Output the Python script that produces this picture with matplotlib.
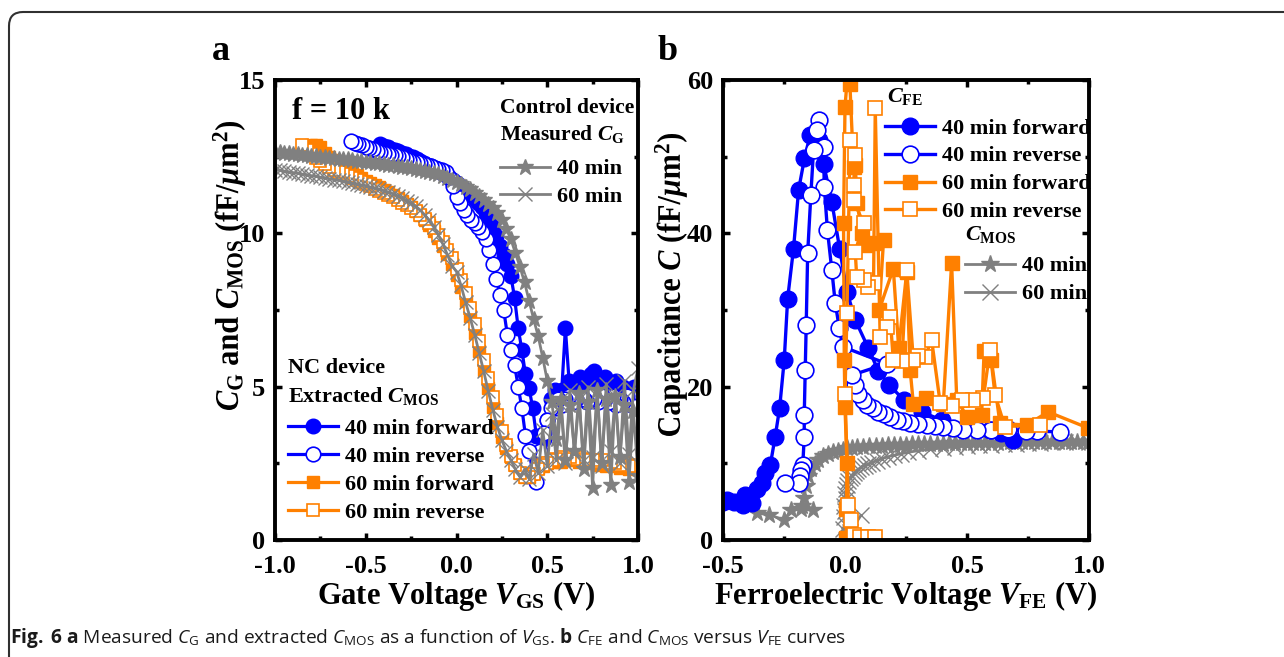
import numpy as np
import matplotlib
matplotlib.use('Agg')
import matplotlib.pyplot as plt
from matplotlib.patches import FancyBboxPatch, PathPatch
from matplotlib.transforms import IdentityTransform, Affine2D
from matplotlib.textpath import TextPath
from matplotlib import font_manager as fm
from matplotlib.font_manager import FontProperties
from matplotlib.ticker import MultipleLocator, FormatStrFormatter

# ---------------- data: panel a (C vs V_GS) ----------------
# control device, measured C_G (sweep -1.0 .. 1.0 V, step 0.025 V)
VGS_CTRL = np.round(np.arange(-1.0, 1.0001, 0.025), 3)
CG_CTRL_40 = [12.66, 12.64, 12.63, 12.61, 12.60, 12.58, 12.56, 12.55, 12.53, 12.52,
              12.50, 12.48, 12.47, 12.45, 12.44, 12.42, 12.41, 12.39, 12.37, 12.36,
              12.34, 12.32, 12.30, 12.28, 12.26, 12.24, 12.22, 12.20, 12.17, 12.15,
              12.12, 12.10, 12.07, 12.04, 12.00, 11.96, 11.92, 11.87, 11.82, 11.75,
              11.68, 11.60, 11.52, 11.43, 11.33, 11.22, 11.10, 10.97, 10.82, 10.65,
              10.45, 10.15, 9.80, 9.35, 8.90, 8.40, 7.80, 7.20, 6.65, 5.95,
              5.20, 4.50, 3.30, 4.60, 2.60, 4.40, 2.90, 4.80, 2.30, 4.50,
              1.70, 4.90, 2.50, 4.60, 1.80, 4.70, 2.70, 4.40, 1.90, 4.20, 2.10]
CG_CTRL_60 = [12.07, 12.05, 12.03, 12.00, 11.98, 11.96, 11.93, 11.91, 11.88, 11.86,
              11.83, 11.81, 11.78, 11.75, 11.73, 11.70, 11.67, 11.64, 11.61, 11.58,
              11.55, 11.51, 11.47, 11.43, 11.39, 11.34, 11.29, 11.22, 11.15, 11.07,
              10.98, 10.88, 10.76, 10.60, 10.42, 10.20, 9.95, 9.65, 9.30, 8.95,
              8.75, 8.30, 7.75, 7.25, 6.70, 6.10, 5.50, 4.85, 4.25, 3.70,
              3.25, 2.90, 2.60, 2.30, 2.05, 2.30, 2.00, 2.80, 2.20, 3.60,
              2.40, 4.10, 2.60, 4.40, 2.50, 4.90, 2.80, 4.60, 2.60, 5.00,
              2.70, 4.80, 2.40, 5.10, 2.90, 4.70, 2.50, 5.20, 2.80, 4.90, 5.60]

# NC device, extracted C_MOS
VGS_40_FWD = np.round(np.arange(-0.42, 1.0001, 0.02), 3)
CMOS_40_FWD = [12.90, 12.85, 12.80, 12.75, 12.72, 12.68, 12.62, 12.58, 12.52, 12.48,
               12.42, 12.37, 12.30, 12.24, 12.18, 12.12, 12.05, 11.98, 11.90, 11.82,
               11.74, 11.65, 11.55, 11.45, 11.35, 11.25, 11.12, 11.00, 10.85, 10.65,
               10.45, 10.20, 9.90, 9.60, 9.30, 9.00, 8.60, 7.90, 6.90, 6.20,
               5.40, 4.95, 4.30, 3.40, 2.80, 3.30, 3.90, 4.60, 4.90, 4.80,
               4.90, 6.90, 5.20, 5.10, 5.00, 5.30, 5.10, 5.20, 5.40, 5.50,
               5.20, 5.00, 5.30, 5.10, 5.00, 5.20, 4.90, 5.00, 4.80, 4.90, 5.00, 4.90]
VGS_40_REV = np.round(np.arange(1.0, -0.5801, -0.02), 3)
CMOS_40_REV = [4.50, 4.60, 4.40, 4.70, 4.50, 4.60, 4.40, 4.70, 4.50, 4.60,
               4.70, 4.50, 4.60, 4.70, 4.50, 4.60, 4.70, 4.60, 4.50, 4.70,
               4.60, 4.40, 4.60, 4.30, 4.30, 3.90, 3.50, 2.90, 1.90, 2.20,
               2.90, 3.40, 4.30, 5.00, 5.70, 6.20, 6.70, 7.50, 8.00, 8.50,
               9.00, 9.45, 9.80, 10.05, 10.20, 10.35, 10.45, 10.60, 10.75, 11.00,
               11.20, 11.55, 11.85, 12.01, 12.06, 12.10, 12.14, 12.18, 12.22, 12.25,
               12.28, 12.31, 12.34, 12.39, 12.44, 12.48, 12.51, 12.54, 12.57, 12.60,
               12.63, 12.66, 12.70, 12.74, 12.78, 12.83, 12.87, 12.90, 12.95, 13.00]
VGS_60_FWD = np.round(np.arange(-0.8, 1.0001, 0.025), 3)
CMOS_60_FWD = [12.88, 12.88, 12.80, 12.62, 12.50, 12.38, 12.28, 12.18, 12.07, 11.98,
               11.90, 11.80, 11.72, 11.65, 11.57, 11.50, 11.42, 11.34, 11.25, 11.15,
               11.05, 10.95, 10.85, 10.73, 10.60, 10.45, 10.28, 10.08, 9.85, 9.60,
               9.32, 9.00, 8.65, 8.25, 7.80, 7.30, 6.75, 6.15, 5.55, 4.95,
               4.35, 3.80, 3.35, 3.00, 2.70, 2.45, 2.20, 2.05, 2.05, 2.20,
               2.35, 2.40, 2.50, 2.55, 2.60, 2.55, 2.60, 2.65, 2.60, 2.55,
               2.60, 2.50, 2.55, 2.45, 2.50, 2.40, 2.45, 2.40, 2.35, 2.40,
               2.30, 2.35, 2.30]
VGS_60_REV = np.round(np.arange(1.0, -0.8501, -0.025), 3)
CMOS_60_REV = [2.40, 2.45, 2.40, 2.50, 2.45, 2.50, 2.55, 2.50, 2.60, 2.55,
               2.60, 2.65, 2.60, 2.70, 2.65, 2.70, 2.65, 2.70, 2.65, 2.60,
               2.50, 2.45, 2.30, 2.15, 2.05, 2.05, 2.20, 2.45, 2.75, 3.10,
               3.55, 4.08, 4.66, 5.27, 5.88, 6.48, 7.05, 7.58, 8.05, 8.48,
               8.85, 9.18, 9.47, 9.73, 9.96, 10.16, 10.33, 10.48, 10.61, 10.72,
               10.82, 10.91, 11.00, 11.09, 11.17, 11.25, 11.32, 11.39, 11.46, 11.53,
               11.60, 11.66, 11.73, 11.80, 11.86, 11.93, 12.00, 12.07, 12.15, 12.25,
               12.35, 12.45, 12.58, 12.72, 12.88]

# ---------------- data: panel b (C vs V_FE) ----------------
VFE_40_FWD = [-0.50, -0.484, -0.456, -0.42, -0.41, -0.38, -0.36, -0.34, -0.327, -0.306,
              -0.286, -0.268, -0.249, -0.235, -0.211, -0.19, -0.166, -0.143, -0.108, -0.088,
              -0.054, -0.022, 0.008, 0.042, 0.096, 0.137, 0.182, 0.24, 0.314, 0.396,
              0.49, 0.594, 0.64, 0.69]
CFE_40_FWD = [5.0, 5.2, 5.0, 4.6, 5.9, 4.8, 6.7, 7.4, 8.7, 9.8,
              13.5, 17.2, 23.5, 31.5, 38.0, 45.7, 49.8, 52.8, 52.2, 49.1,
              44.1, 38.0, 32.4, 28.7, 25.0, 22.0, 20.2, 18.3, 16.7, 15.65,
              14.6, 14.3, 13.9, 13.0]
VFE_40_REV = [0.88, 0.785, 0.74, 0.67, 0.60, 0.54, 0.485, 0.444, 0.403, 0.369,
              0.335, 0.301, 0.267, 0.239, 0.212, 0.185, 0.16, 0.137, 0.114, 0.092,
              0.073, 0.055, 0.042, 0.028, 0.171, -0.009, -0.023, -0.04, -0.054, -0.072,
              -0.085, -0.088, -0.108, -0.115, -0.129, -0.14, -0.153, -0.159, -0.163, -0.167,
              -0.167, -0.173, -0.181, -0.186, -0.19, -0.245]
CFE_40_REV = [14.1, 14.2, 14.2, 14.5, 14.4, 14.3, 14.4, 14.55, 14.7, 14.9,
              15.0, 15.1, 15.3, 15.5, 15.7, 16.1, 16.4, 16.7, 17.2, 17.6,
              18.3, 19.1, 20.2, 21.5, 23.0, 25.2, 27.6, 30.9, 35.2, 40.4,
              46.1, 51.3, 54.8, 53.5, 50.9, 45.0, 37.4, 28.0, 22.2, 16.3,
              13.5, 9.8, 9.1, 8.3, 7.4, 7.4]
VFE_60_FWD = [0.005, 0.006, 0.008, 0.0, -0.003, -0.006, 0.0, 0.014, 0.02, 0.035,
              0.042, 0.05, 0.069, 0.083, 0.117, 0.158, 0.14, 0.198, 0.22, 0.253,
              0.267, 0.28, 0.33, 0.403, 0.437, 0.458, 0.5, 0.56, 0.57, 0.6,
              0.635, 0.744, 0.833, 0.997]
CFE_60_FWD = [0.3, 4.0, 10.0, 17.3, 23.5, 41.3, 56.5, 62.0, 59.5, 48.7,
              48.9, 44.0, 40.0, 38.5, 38.7, 39.1, 30.0, 35.4, 25.0, 35.0,
              22.2, 17.8, 18.5, 17.8, 36.1, 18.3, 16.1, 16.3, 24.6, 23.5,
              15.2, 15.0, 16.7, 14.6]
VFE_60_REV = [0.80, 0.655, 0.615, 0.594, 0.567, 0.526, 0.478, 0.44, 0.39, 0.355,
              0.328, 0.30, 0.28, 0.253, 0.233, 0.198, 0.185, 0.171, 0.144, 0.124,
              0.117, 0.096, 0.076, 0.048, 0.042, 0.076, 0.035, 0.035, 0.042, 0.021,
              0.008, 0.0, 0.014, 0.024, 0.035, 0.062, 0.096, 0.124]
CFE_60_REV = [15.0, 14.8, 18.9, 24.8, 18.5, 18.3, 18.3, 17.5, 17.9, 26.1,
              23.9, 24.0, 23.5, 35.2, 23.3, 23.5, 29.1, 27.8, 26.5, 56.3,
              33.5, 33.0, 33.9, 34.3, 37.6, 41.3, 44.3, 46.3, 50.2, 52.2,
              29.6, 19.1, 4.6, 2.6, 0.65, 0.4, 0.4, 0.4]
VFE_MOS_40 = [-0.36, -0.31, -0.25, -0.22, -0.18, -0.13, -0.175, -0.168, -0.16, -0.152,
              -0.14, -0.125, -0.11, -0.09, -0.07, -0.05, -0.03, -0.01, 0.01, 0.03,
              0.05, 0.075, 0.10, 0.125, 0.15, 0.175, 0.20, 0.225, 0.25, 0.275,
              0.30, 0.325, 0.35, 0.375, 0.40, 0.425, 0.45, 0.475, 0.50, 0.525,
              0.55, 0.575, 0.60, 0.625, 0.65, 0.675, 0.70, 0.725, 0.75, 0.775,
              0.80, 0.825, 0.85, 0.875, 0.90, 0.925, 0.95, 0.975, 1.0]
CMOS_FE_40 = [3.5, 3.3, 2.6, 3.9, 4.0, 3.9, 4.5, 5.5, 7.0, 8.3,
              9.2, 9.9, 10.4, 10.9, 11.2, 11.45, 11.65, 11.8, 11.95, 12.02,
              12.08, 12.15, 12.22, 12.27, 12.3, 12.34, 12.38, 12.41, 12.44, 12.47,
              12.5, 12.52, 12.54, 12.56, 12.58, 12.6, 12.62, 12.63, 12.65, 12.66,
              12.67, 12.68, 12.7, 12.71, 12.72, 12.73, 12.74, 12.75, 12.76, 12.76,
              12.77, 12.77, 12.78, 12.78, 12.79, 12.79, 12.8, 12.8, 12.8]
VFE_MOS_60 = [0.065, 0.02, -0.01, 0.005, -0.005, 0.002, -0.003, 0.004, 0.0, 0.006,
              0.01, 0.014, 0.02, 0.027, 0.035, 0.045, 0.055, 0.067, 0.08, 0.095,
              0.11, 0.13, 0.15, 0.175, 0.20, 0.23, 0.26, 0.30, 0.35, 0.40,
              0.45, 0.50, 0.55, 0.60, 0.65, 0.70, 0.75, 0.80, 0.85, 0.90, 0.95, 1.0]
CMOS_FE_60 = [3.2, 1.0, 1.5, 2.0, 3.0, 3.8, 4.5, 5.3, 6.0, 6.6,
              7.2, 7.7, 8.1, 8.4, 8.7, 9.0, 9.25, 9.5, 9.7, 9.9,
              10.1, 10.35, 10.6, 10.85, 11.05, 11.25, 11.45, 11.65, 11.85, 12.0,
              12.15, 12.25, 12.35, 12.45, 12.52, 12.58, 12.63, 12.68, 12.72, 12.75, 12.78, 12.8]

XTICKS_A = [-1.0, -0.5, 0.0, 0.5, 1.0]
YTICKS_A = [0, 5, 10, 15]
XTICKS_B = [-0.5, 0.0, 0.5, 1.0]
YTICKS_B = [0, 20, 40, 60]

YLABEL_A = r"$C_{\rm G}$ and $C_{\rm MOS}$ (fF/$\mu$m$^{\rm 2}$)"
YLABEL_B = r"Capacitance $C$ (fF/$\mu$m$^{\rm 2}$)"
XLABEL_A = r"Gate Voltage $V_{\rm GS}$ (V)"
XLABEL_B = r"Ferroelectric Voltage $V_{\rm FE}$ (V)"
CAPTION = (r"$\mathbf{Fig.\ 6\ a}$ Measured $\mathcal{C}_{\mathsf{G}}$ and extracted "
           r"$\mathcal{C}_{\mathsf{MOS}}$ as a function of $\mathcal{V}_{\mathsf{GS}}$. "
           r"$\mathbf{b}$ $\mathcal{C}_{\mathsf{FE}}$ and $\mathcal{C}_{\mathsf{MOS}}$ versus "
           r"$\mathcal{V}_{\mathsf{FE}}$ curves")

# ---------------- style ----------------
avail = {f.name for f in fm.fontManager.ttflist}
CAP_FONT = 'Liberation Sans Narrow' if 'Liberation Sans Narrow' in avail else 'Open Sans'

plt.rcParams.update({
    'font.family': ['Liberation Serif', 'DejaVu Serif'],
    'font.weight': 'bold',
    'axes.unicode_minus': False,
    'mathtext.fontset': 'custom',
    'mathtext.rm': 'Liberation Serif:bold',
    'mathtext.it': 'Liberation Serif:bold:italic',
    'mathtext.bf': CAP_FONT + ':bold',
    'mathtext.sf': CAP_FONT + ':weight=normal',
    'mathtext.cal': CAP_FONT + ':italic:weight=normal',
})

BLUE = '#0000ff'
ORANGE = '#ff8000'
GRAY = '#808080'

fig = plt.figure(figsize=(12.84, 6.57), dpi=100)
W, H = 1284, 657

def axes_px(l, t, r, b):
    return fig.add_axes([l / W, 1 - b / H, (r - l) / W, (b - t) / H])

ax_a = axes_px(275, 80, 638, 540)
ax_b = axes_px(723, 80, 1089, 540)

TICK_FS = 19
LAB_FS = 22
LEG_FS = 16

def style_axes(ax, xmaj, xmin, ymaj, ymin, xfmt, yfmt):
    for s in ax.spines.values():
        s.set_linewidth(2.8)
    ax.xaxis.set_major_locator(MultipleLocator(xmaj))
    ax.xaxis.set_minor_locator(MultipleLocator(xmin))
    ax.yaxis.set_major_locator(MultipleLocator(ymaj))
    ax.yaxis.set_minor_locator(MultipleLocator(ymin))
    ax.xaxis.set_major_formatter(FormatStrFormatter(xfmt))
    ax.yaxis.set_major_formatter(FormatStrFormatter(yfmt))
    ax.tick_params(which='both', direction='in', top=True, right=True, width=2.5)
    ax.tick_params(which='major', length=5, labelsize=TICK_FS)
    ax.tick_params(axis='x', which='major', pad=10.5)
    ax.tick_params(axis='y', which='major', pad=7)
    ax.tick_params(which='minor', length=3)
    for lab in ax.get_xticklabels() + ax.get_yticklabels():
        lab.set_fontweight('bold')

def rotated_label(s, base_x, py_bottom, py_top, size_px):
    """Vertical label drawn as a path, fitted between two pixel rows."""
    fp = FontProperties(family='Liberation Serif', weight='bold')
    tp = TextPath((0, 0), s, size=size_px, prop=fp)
    bb = tp.get_extents()
    sx = (py_bottom - py_top) / bb.width
    tr = (Affine2D().translate(-bb.x0, 0).scale(sx, 1.0).rotate_deg(90)
          .translate(base_x, H - py_bottom))
    patch = PathPatch(tr.transform_path(tp), transform=IdentityTransform(),
                      fc='black', ec='none', lw=0)
    fig.add_artist(patch)

leg_kw = dict(frameon=False, handlelength=2.25, handletextpad=0.3,
              labelspacing=0.33, borderpad=0, borderaxespad=0,
              prop={'weight': 'bold', 'size': LEG_FS})

# ---------------- panel a ----------------
lw = 2.3
h_fwd40, = ax_a.plot(VGS_40_FWD, CMOS_40_FWD, '-o', color=BLUE, lw=lw, ms=10.5,
                     mfc=BLUE, mec=BLUE, label='40 min forward')
h_rev40, = ax_a.plot(VGS_40_REV, CMOS_40_REV, '-o', color=BLUE, lw=lw, ms=10.5,
                     mfc='white', mec=BLUE, mew=1.2, label='40 min reverse')
h_fwd60, = ax_a.plot(VGS_60_FWD, CMOS_60_FWD, '-s', color=ORANGE, lw=lw, ms=9,
                     mfc=ORANGE, mec=ORANGE, label='60 min forward')
h_rev60, = ax_a.plot(VGS_60_REV, CMOS_60_REV, '-s', color=ORANGE, lw=lw, ms=9,
                     mfc='white', mec=ORANGE, mew=1.2, label='60 min reverse')
h_c40, = ax_a.plot(VGS_CTRL, CG_CTRL_40, '-*', color=GRAY, lw=2.0, ms=12,
                   mfc=GRAY, mec=GRAY, label='40 min')
h_c60, = ax_a.plot(VGS_CTRL, CG_CTRL_60, '-x', color=GRAY, lw=2.0, ms=10,
                   mec=GRAY, mew=1.0, label='60 min')

ax_a.set_xlim(-1.0, 1.0)
ax_a.set_ylim(0, 15)
ax_a.set_xticks(XTICKS_A)
ax_a.set_yticks(YTICKS_A)
style_axes(ax_a, 0.5, 0.25, 5, 2.5, '%.1f', '%d')
ax_a.set_xlabel(XLABEL_A, fontsize=LAB_FS, fontweight='bold', labelpad=1)
rotated_label(YLABEL_A, 238, 410, 122, 33)

ax_a.text(0.047, 0.915, "f = 10 k", transform=ax_a.transAxes, fontsize=22,
          fontweight='bold', va='baseline', ha='left')
ax_a.text(0.62, 0.928, "Control device", transform=ax_a.transAxes, fontsize=15.5,
          fontweight='bold', va='baseline', ha='left')
ax_a.text(0.62, 0.870, r"Measured $C_{\rm G}$", transform=ax_a.transAxes, fontsize=15.5,
          fontweight='bold', va='baseline', ha='left')
ax_a.text(0.036, 0.363, "NC device", transform=ax_a.transAxes, fontsize=LEG_FS,
          fontweight='bold', va='baseline', ha='left')
ax_a.text(0.036, 0.300, r"Extracted $C_{\rm MOS}$", transform=ax_a.transAxes, fontsize=LEG_FS,
          fontweight='bold', va='baseline', ha='left')

leg1 = ax_a.legend(handles=[h_c40, h_c60], loc='center left', bbox_to_anchor=(0.62, 0.776), **leg_kw)
ax_a.add_artist(leg1)
leg2 = ax_a.legend(handles=[h_fwd40, h_rev40, h_fwd60, h_rev60], loc='center left',
                   bbox_to_anchor=(0.036, 0.151), **leg_kw)

# ---------------- panel b ----------------
hb_c40, = ax_b.plot(VFE_MOS_40, CMOS_FE_40, '-*', color=GRAY, lw=2.0, ms=13,
                    mfc=GRAY, mec=GRAY, label='40 min')
hb_c60, = ax_b.plot(VFE_MOS_60, CMOS_FE_60, '-x', color=GRAY, lw=2.0, ms=11,
                    mec=GRAY, mew=1.0, label='60 min')
hb_fwd40, = ax_b.plot(VFE_40_FWD, CFE_40_FWD, '-o', color=BLUE, lw=2.4, ms=12,
                      mfc=BLUE, mec=BLUE, label='40 min forward')
hb_rev40, = ax_b.plot(VFE_40_REV, CFE_40_REV, '-o', color=BLUE, lw=2.4, ms=12,
                      mfc='white', mec=BLUE, mew=1.2, label='40 min reverse')
hb_fwd60, = ax_b.plot(VFE_60_FWD, CFE_60_FWD, '-s', color=ORANGE, lw=2.4, ms=10,
                      mfc=ORANGE, mec=ORANGE, label='60 min forward')
hb_rev60, = ax_b.plot(VFE_60_REV, CFE_60_REV, '-s', color=ORANGE, lw=2.4, ms=10,
                      mfc='white', mec=ORANGE, mew=1.2, label='60 min reverse')

ax_b.set_xlim(-0.5, 1.0)
ax_b.set_ylim(0, 60)
ax_b.set_xticks(XTICKS_B)
ax_b.set_yticks(YTICKS_B)
style_axes(ax_b, 0.5, 0.25, 20, 10, '%.1f', '%d')
ax_b.set_xlabel(XLABEL_B, fontsize=LAB_FS, fontweight='bold', labelpad=1)
rotated_label(YLABEL_B, 680, 436, 134, 33)

ax_b.text(0.448, 0.952, r"$C_{\rm FE}$", transform=ax_b.transAxes, fontsize=LEG_FS,
          va='baseline', ha='left')
ax_b.text(0.661, 0.652, r"$C_{\rm MOS}$", transform=ax_b.transAxes, fontsize=LEG_FS,
          va='baseline', ha='left')
leg3 = ax_b.legend(handles=[hb_fwd40, hb_rev40, hb_fwd60, hb_rev60], loc='center left',
                   bbox_to_anchor=(0.443, 0.804), **leg_kw)
ax_b.add_artist(leg3)
leg4 = ax_b.legend(handles=[hb_c40, hb_c60], loc='center left',
                   bbox_to_anchor=(0.661, 0.565), **leg_kw)

# panel letters
fig.text(212 / W, 1 - 60 / H, 'a', fontsize=26, fontweight='bold', va='baseline', ha='left')
fig.text(658 / W, 1 - 60 / H, 'b', fontsize=26, fontweight='bold', va='baseline', ha='left')

# caption
fig.text(10 / W, 1 - 643 / H, CAPTION, fontsize=13.8, family=CAP_FONT, fontweight='normal',
         color='#1a1a1a', va='baseline', ha='left')

# outer rounded frame
frame = FancyBboxPatch((9, -60), 1400, H - 12 + 60, boxstyle='round,pad=0,rounding_size=14',
                       transform=IdentityTransform(), lw=1.5, ec='#303030', fc='none')
fig.patches.append(frame)

fig.savefig('out.png', dpi=100)
